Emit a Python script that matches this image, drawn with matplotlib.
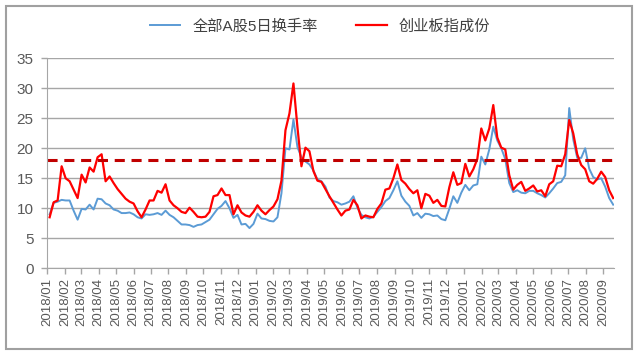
import matplotlib
matplotlib.use("Agg")
import matplotlib.pyplot as plt
import matplotlib.dates as mdates
from matplotlib.patches import Rectangle
import pandas as pd

plt.rcParams['font.family'] = ['Liberation Sans', 'Noto Sans CJK SC', 'DejaVu Sans']

# weekly readings (Fridays), 2018-01-05 .. 2020-09-18
start_week = '2018-01-05'

blue_turnover = [
    9.0, 10.9, 11.1, 11.4, 11.3, 11.3, 9.6, 8.1, 9.9, 9.8,
    10.6, 9.8, 11.6, 11.5, 10.8, 10.5, 9.8, 9.6, 9.2, 9.2,
    9.3, 9.0, 8.5, 8.3, 9.0, 8.9, 9.0, 9.2, 8.9, 9.6,
    8.9, 8.5, 7.9, 7.3, 7.3, 7.2, 6.9, 7.2, 7.3, 7.7,
    8.1, 9.0, 9.9, 10.4, 11.2, 10.0, 8.4, 8.9, 7.3, 7.4,
    6.7, 7.4, 9.1, 8.3, 8.2, 7.9, 7.8, 8.5, 12.5, 20.0,
    19.8, 24.8, 20.2, 18.5, 17.8, 17.3, 16.3, 14.8, 14.5, 13.6,
    11.8, 11.2, 11.0, 10.6, 10.8, 11.1, 12.0, 10.1, 8.9, 8.5,
    8.3, 8.6, 9.4, 10.2, 11.2, 11.7, 13.0, 14.5, 12.1, 11.1,
    10.4, 8.8, 9.2, 8.4, 9.1, 9.0, 8.7, 8.8, 8.2, 8.0,
    9.9, 12.0, 10.9, 12.6, 13.9, 13.0, 13.8, 14.0, 18.6, 17.3,
    19.8, 23.6, 21.3, 20.0, 18.2, 14.2, 12.7, 13.0, 12.6, 12.5,
    12.9, 12.9, 12.5, 12.2, 11.8, 12.5, 13.3, 14.2, 14.4, 15.5,
    26.7, 21.5, 18.4, 18.4, 20.0, 16.6, 15.2, 14.8, 15.0, 13.6,
    11.7, 10.6,
]

red_chinext = [
    8.5, 11.0, 11.3, 17.0, 15.0, 14.5, 13.1, 11.7, 15.6, 14.3,
    16.8, 16.1, 18.5, 19.0, 14.5, 15.3, 14.2, 13.2, 12.4, 11.6,
    11.1, 10.8, 9.5, 8.5, 9.8, 11.3, 11.3, 12.9, 12.6, 14.0,
    11.3, 10.5, 10.0, 9.4, 9.2, 10.1, 9.4, 8.6, 8.5, 8.6,
    9.4, 12.0, 12.2, 13.3, 12.2, 12.2, 9.0, 10.5, 9.3, 8.8,
    8.6, 9.4, 10.5, 9.6, 9.0, 9.7, 10.3, 11.5, 14.6, 23.0,
    25.8, 30.8, 23.5, 17.0, 20.1, 19.5, 16.2, 14.6, 14.4, 13.2,
    12.0, 10.9, 9.8, 8.8, 9.6, 9.8, 11.4, 10.5, 8.3, 8.8,
    8.6, 8.5, 9.9, 10.8, 13.1, 13.3, 15.0, 17.3, 14.7, 14.1,
    13.2, 12.5, 13.0, 10.0, 12.4, 12.1, 10.9, 11.4, 10.4, 10.3,
    13.5, 16.0, 13.9, 14.2, 17.4, 15.3, 16.5, 18.2, 23.3, 21.3,
    23.3, 27.2, 21.8, 20.1, 19.8, 15.5, 13.1, 13.9, 14.4, 12.9,
    13.3, 13.8, 12.8, 13.0, 12.0, 14.0, 14.5, 17.1, 17.0, 19.0,
    24.7, 22.5, 19.0, 17.2, 16.5, 14.5, 14.1, 14.9, 16.1, 15.2,
    13.0, 11.7,
]

ref_level = 18

month_labels = [
    '2018/01', '2018/02', '2018/03', '2018/04', '2018/05', '2018/06',
    '2018/07', '2018/08', '2018/09', '2018/10', '2018/11', '2018/12',
    '2019/01', '2019/02', '2019/03', '2019/04', '2019/05', '2019/06',
    '2019/07', '2019/08', '2019/09', '2019/10', '2019/11', '2019/12',
    '2020/01', '2020/02', '2020/03', '2020/04', '2020/05', '2020/06',
    '2020/07', '2020/08', '2020/09',
]

dates = pd.date_range(start_week, periods=len(red_chinext), freq='W-FRI')
month_ticks = pd.to_datetime(month_labels, format='%Y/%m')

fig = plt.figure(figsize=(6.4, 3.53), dpi=100)
ax = fig.add_axes([0.074, 0.240, 0.885, 0.595])

ax.plot(dates, blue_turnover, color='#5b9bd5', lw=1.4, label='全部A股5日换手率')
ax.plot(dates, red_chinext, color='#ff0000', lw=1.6, label='创业板指成份')
ax.plot([pd.Timestamp('2018-01-01'), pd.Timestamp('2020-09-19')], [ref_level, ref_level],
        color='#c00000', lw=2.2, ls=(0, (3.3, 2.2)))

ax.set_xlim(pd.Timestamp('2018-01-01'), pd.Timestamp('2020-09-19'))
ax.set_ylim(0, 35)
ax.set_yticks(range(0, 36, 5))
ax.set_xticks(month_ticks)
ax.set_xticklabels(month_labels, rotation=90)

ax.grid(axis='y', color='#a6a6a6', lw=1)
ax.set_axisbelow(True)
for s in ['top', 'right']:
    ax.spines[s].set_visible(False)
ax.spines['left'].set_color('#a6a6a6')
ax.spines['bottom'].set_color('#a6a6a6')
ax.tick_params(axis='both', colors='#a6a6a6', length=4, width=1)
ax.tick_params(axis='y', labelsize=11, labelcolor='#595959', pad=6)
ax.tick_params(axis='x', labelsize=9.5, labelcolor='#595959', pad=3)

fig.legend(loc='upper center', bbox_to_anchor=(0.5, 0.985), ncol=2, frameon=False,
           fontsize=11, handlelength=2.0, columnspacing=2.5, labelcolor='#404040')

fig.patches.append(Rectangle((0.009, 0.012), 0.978, 0.972, transform=fig.transFigure,
                             fill=False, edgecolor='#a0a0a0', lw=1.5))

fig.savefig('out.png', dpi=100)
